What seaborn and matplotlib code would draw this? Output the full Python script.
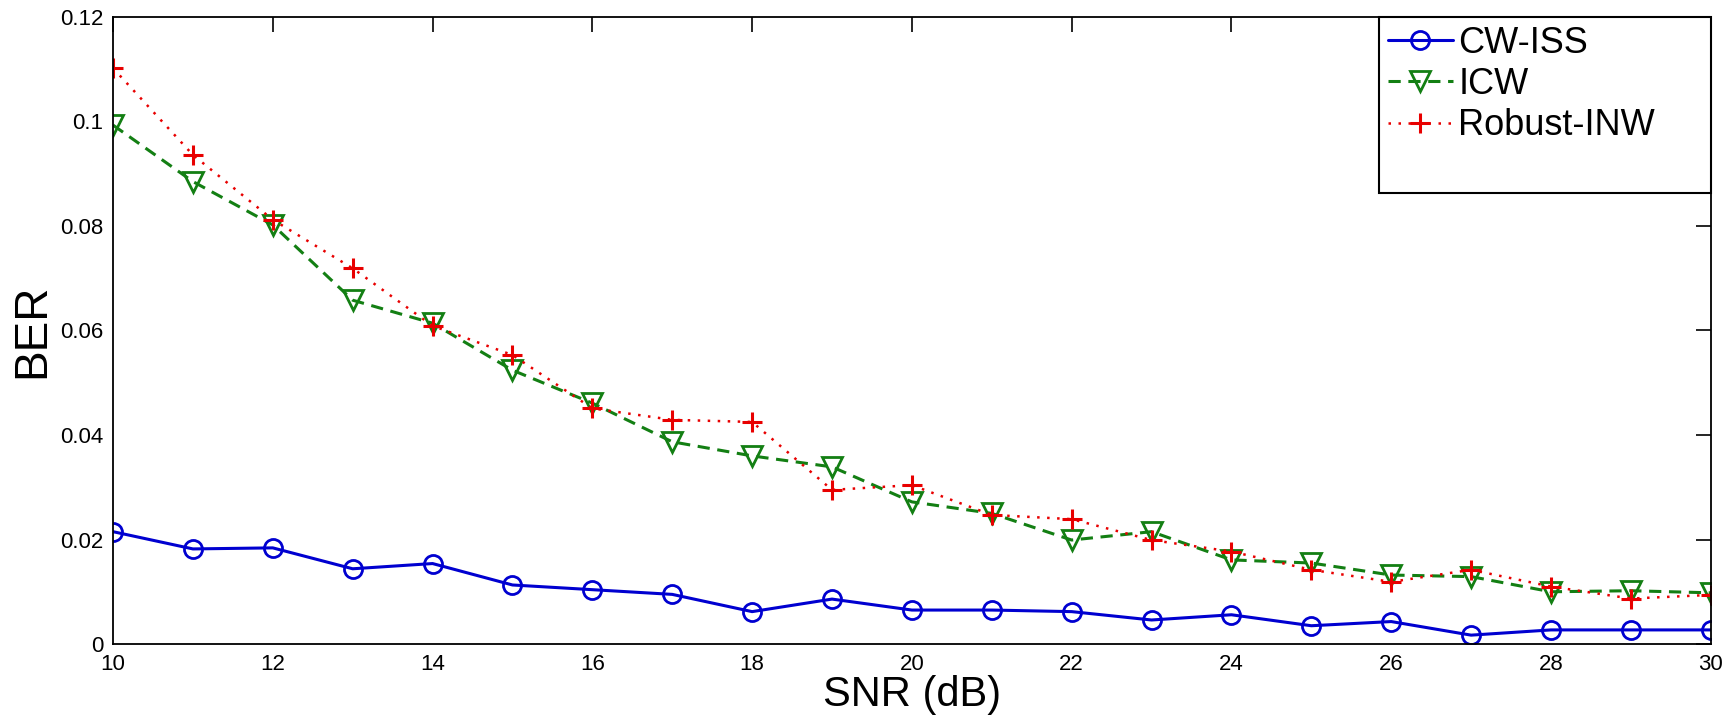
import seaborn as sns
import matplotlib.pyplot as plt
from matplotlib.lines import Line2D
from matplotlib.ticker import FormatStrFormatter

# SNR values and BER curves
snr = list(range(10, 31))
cw_iss = [0.0215, 0.0182, 0.0184, 0.0144, 0.0154, 0.0113, 0.0104, 0.0095, 0.0062, 0.0086,
          0.0065, 0.0065, 0.0062, 0.0046, 0.0056, 0.0035, 0.0043, 0.0017, 0.0027, 0.0027, 0.0027]
icw = [0.0993, 0.0885, 0.0802, 0.0658, 0.0614, 0.0524, 0.0461, 0.0387, 0.0360, 0.0339,
       0.0272, 0.0250, 0.0199, 0.0215, 0.0161, 0.0155, 0.0132, 0.0129, 0.0100, 0.0102, 0.0098]
robust_inw = [0.1102, 0.0936, 0.0812, 0.0719, 0.0609, 0.0553, 0.0451, 0.0429, 0.0425, 0.0295,
              0.0304, 0.0247, 0.0239, 0.0199, 0.0177, 0.0142, 0.0119, 0.0142, 0.0110, 0.0087, 0.0094]
x_ticks = list(range(10, 31, 2))
y_ticks = [0, 0.02, 0.04, 0.06, 0.08, 0.1, 0.12]

sns.set_theme(style="white")
plt.rcParams['font.family'] = ['Liberation Sans', 'DejaVu Sans']
plt.rcParams['text.color'] = 'black'

fig = plt.figure(figsize=(17.31, 7.22), dpi=100)
ax = fig.add_axes([0.0653, 0.108, 0.923, 0.8685])

blue, green, red = '#0000d0', '#137f13', '#e80000'

# three curves, matlab style
sns.lineplot(x=snr, y=cw_iss, ax=ax, color=blue, lw=2.2, ls='-',
             marker='o', ms=13, mfc='none', mec=blue, mew=2, label='CW-ISS')
sns.lineplot(x=snr, y=icw, ax=ax, color=green, lw=2.2, ls=(0, (4, 2.5)),
             marker='v', ms=14, mfc='none', mec=green, mew=2, label='ICW')
sns.lineplot(x=snr, y=robust_inw, ax=ax, color=red, lw=1.8, ls=(0, (1, 3)),
             marker='+', ms=15, mfc=red, mec=red, mew=2.2, label='Robust-INW')

ax.set_xlim(10, 30)
ax.set_ylim(0, 0.12)
ax.set_xticks(x_ticks)
ax.set_yticks(y_ticks)
ax.yaxis.set_major_formatter(FormatStrFormatter('%g'))
ax.tick_params(direction='in', length=11, width=1.2, top=True, right=True,
               labelsize=16, pad=7, colors='black')
for sp in ax.spines.values():
    sp.set_color('black')
    sp.set_linewidth(1.3)

ax.set_xlabel('SNR (dB)', fontsize=30, labelpad=0, color='black')
ax.set_ylabel('BER', fontsize=33, labelpad=4, color='black')

# matlab legend leaves extra room under the last entry -> blank row
handles, labels = ax.get_legend_handles_labels()
handles.append(Line2D([], [], ls='none'))
labels.append(' ')
leg = ax.legend(handles, labels, loc='upper left', bbox_to_anchor=(0.7922, 0.0, 0.2078, 1.0),
                mode='expand', borderaxespad=0, fontsize=26, frameon=True, fancybox=False,
                edgecolor='black', facecolor='white', framealpha=1,
                handlelength=1.8, handletextpad=0.15, labelspacing=0.17, borderpad=0.25)
leg.get_frame().set_linewidth(1.5)

plt.savefig('out.png', dpi=100)
